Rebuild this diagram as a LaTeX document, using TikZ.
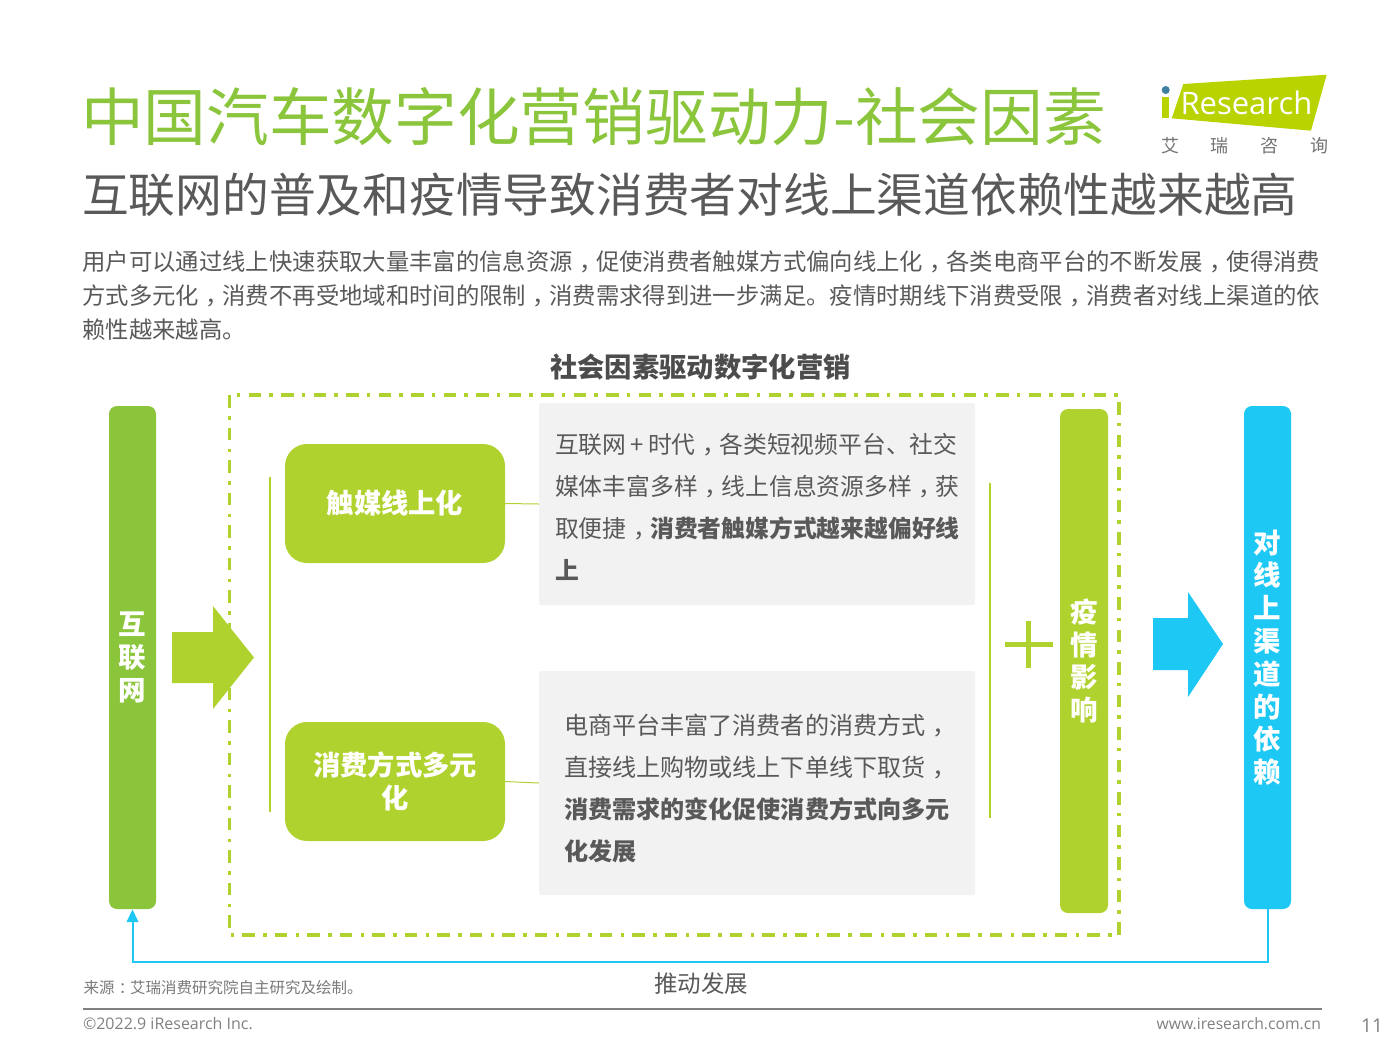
\documentclass[tikz,border=0pt]{standalone}
\usepackage{fontspec}
\setmainfont{Noto Sans CJK SC}
\newfontfamily\latinf{Open Sans}
\definecolor{lime}{HTML}{B0D22F}
\definecolor{leaf}{HTML}{8AC53C}
\definecolor{sky}{HTML}{1EC8F5}
\definecolor{ink}{HTML}{595959}
\definecolor{panel}{HTML}{F2F2F2}
\definecolor{logog}{HTML}{B9D300}
\definecolor{logodot}{HTML}{3F7F9F}
\newcommand{\fs}[2]{\fontsize{#1}{#2}\selectfont}
\newcommand{\zc}{\hspace{0.28em}\makebox[0.72em][l]{，}}
\newcommand{\zk}{\hspace{0.28em}\makebox[0.72em][l]{：}}
\tikzset{
  txt/.style={inner sep=0pt,outer sep=0pt,text=ink},
  bar/.style={inner sep=0pt,rounded corners=8pt,text=white,font=\fs{27.5}{32.8}\bfseries,align=center},
  greenbox/.style={fill=lime,inner sep=0pt,minimum width=220pt,minimum height=119pt,rounded corners=22pt,text=white,font=\fs{27.3}{33}\bfseries,align=center},
  panelbox/.style={fill=panel,inner sep=0pt,minimum width=436pt,rounded corners=2pt},
  desc/.style={txt,anchor=north west,align=left},
  link/.style={draw=lime,line width=1pt},
  logochar/.style={txt,text=gray!90!black,font=\fs{18}{20}},
}
\begin{document}
\begin{tikzpicture}[x=1pt,y=-1pt]
\useasboundingbox (0,0) rectangle (1400,1050);
% titles
\node[txt,anchor=west,text=leaf,font=\fs{62.7}{70}] (title) at (81,117) {中国汽车数字化营销驱动力-社会因素};
\node[txt,anchor=west,font=\fs{46.75}{50}] (subtitle) at (82,195) {互联网的普及和疫情导致消费者对线上渠道依赖性越来越高};
\node[txt,anchor=north west,align=left,font=\fs{23.35}{34}] (intro) at (82.5,251) {用户可以通过线上快速获取大量丰富的信息资源\zc 促使消费者触媒方式偏向线上化\zc 各类电商平台的不断发展\zc 使得消费\\方式多元化\zc 消费不再受地域和时间的限制\zc 消费需求得到进一步满足。疫情时期线下消费受限\zc 消费者对线上渠道的依\\赖性越来越高。};
\node[txt,font=\fs{27.3}{30}\bfseries,text=ink!85!black] (charttitle) at (700.5,367) {社会因素驱动数字化营销};
% logo
\fill[logog] (1183.3,84) -- (1326.7,74.7) -- (1311,130.7) -- (1171.7,118.3) -- cycle;
\fill[logog] (1161.7,96.7) rectangle (1169.3,118.3);
\fill[logodot] (1165.7,90) circle (4);
\node[txt,anchor=west,text=white,font=\latinf\fs{31}{34}] (logotext) at (1180.5,103) {Research};
\node[logochar] (logoa) at (1170,146) {艾};
\node[logochar] (logob) at (1219,146) {瑞};
\node[logochar] (logoc) at (1269,146) {咨};
\node[logochar] (logod) at (1319,146) {询};
% dashed frame
\draw[lime,line width=3.4pt,dash pattern=on 12.5pt off 8.5pt on 3.5pt off 8pt] (229.5,395) rectangle (1119,935);
% panels
\node[panelbox,minimum height=202pt] (panela) at (757,504) {};
\node[panelbox,minimum height=224pt] (panelb) at (757,783) {};
\node[desc,font=\fs{23.8}{42}] (texta) at (555,433) {互联网\hspace{0.18em}+\hspace{0.18em}时代\zc 各类短视频平台、社交\\媒体丰富多样\zc 线上信息资源多样\zc 获\\取便捷\zc \textbf{消费者触媒方式越来越偏好线}\\\textbf{上}};
\node[desc,font=\fs{24.1}{42}] (textb) at (564,714) {电商平台丰富了消费者的消费方式\zc\\直接线上购物或线上下单线下取货\zc\\\textbf{消费需求的变化促使消费方式向多元}\\\textbf{化发展}};
% green boxes
\node[greenbox] (boxa) at (395,503.5) {触媒线上化};
\node[greenbox] (boxb) at (395,781.5) {消费方式多元\\化};
\draw[link] (boxa.east) -- (panela.west);
\draw[link] (boxb.east) -- (panelb.west);
% bracket lines
\coordinate (la) at (270,477); \coordinate (lb) at (270,812);
\coordinate (ra) at (990,483); \coordinate (rb) at (990,818);
\draw[lime,line width=1.6pt] (la) -- (lb);
\draw[lime,line width=1.6pt] (ra) -- (rb);
% bars
\node[bar,fill=leaf,minimum width=47pt,minimum height=503pt] (inet) at (132.5,657.5) {互\\联\\网};
\node[bar,fill=lime,minimum width=48pt,minimum height=504pt] (covid) at (1084,661) {疫\\情\\影\\响};
\node[bar,fill=sky,minimum width=47pt,minimum height=503pt] (dep) at (1267.5,657.5) {对\\线\\上\\渠\\道\\的\\依\\赖};
% arrows
\fill[lime] (172,632) -- (213,632) -- (213,606) -- (254,657.5) -- (213,709) -- (213,683) -- (172,683) -- cycle;
\fill[sky] (1153,618) -- (1188,618) -- (1188,592) -- (1223,644) -- (1188,697) -- (1188,670) -- (1153,670) -- cycle;
% plus
\draw[lime,line width=5pt] (1005,644) -- (1053,644);
\draw[lime,line width=5pt] (1028.5,621) -- (1028.5,668);
% feedback
\coordinate (fa) at (1267.5,962); \coordinate (fb) at (132.5,962);
\fill[sky] (132.5,909.5) -- (138.5,922) -- (126.5,922) -- cycle;
\draw[sky,line width=2pt] (dep.south) -- (fa) -- (fb) -- (132.5,921);
\node[txt,font=\fs{23.5}{26}] (push) at (701,984) {推动发展};
% footer
\node[txt,anchor=west,text=gray!95!black,font=\fs{15.5}{18}] (source) at (83.5,988) {来源\zk 艾瑞消费研究院自主研究及绘制。};
\coordinate (fl) at (83,1009); \coordinate (fr) at (1322,1009);
\draw[gray,line width=2pt] (fl) -- (fr);
\node[txt,anchor=west,text=gray,font=\latinf\fs{16}{18}] (copy) at (83,1024) {©2022.9 iResearch Inc.};
\node[txt,anchor=east,text=gray,font=\latinf\fs{15.7}{18}] (web) at (1321,1024) {www.iresearch.com.cn};
\node[txt,text=gray,font=\latinf\fs{19}{22}] (page) at (1372,1026) {11};
\end{tikzpicture}
\end{document}
